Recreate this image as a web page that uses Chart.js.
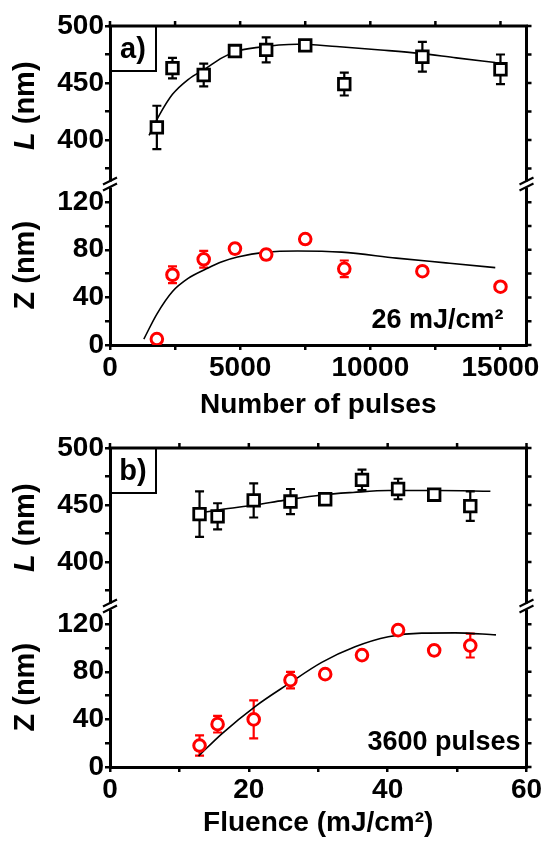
<!DOCTYPE html>
<html>
<head>
<meta charset="utf-8">
<script src="https://cdn.jsdelivr.net/npm/chart.js@4/dist/chart.umd.min.js"></script>
<style>
html, body { margin: 0; padding: 0; background: #fff; }
#wrap { position: relative; width: 545px; height: 844px; }
.panel { position: absolute; left: 0; width: 545px; height: 422px; }
</style>
</head>
<body>
<div id="wrap">
  <div class="panel" style="top:0"><canvas id="chartA" width="545" height="422"></canvas></div>
  <div class="panel" style="top:422px"><canvas id="chartB" width="545" height="422"></canvas></div>
</div>
<script>
// PANEL A : number of pulses at 26 mJ/cm2
let pulses = [1800, 2400, 3600, 4800, 6000, 7500, 9000, 12000, 15000];
let lenA = [411, 463, 457, 478, 479, 483, 449, 473, 462];
let lenErrA = [19, 9, 10, 3, 11, 3, 10, 13, 13];
let depthA = [5, 59, 72, 81, 76, 89, 64, 62, 49];
let depthErrA = [2, 7, 7, 4, 4, 3, 7, 3, 3];
// fit curves
let fitLenXA = [1500, 1900, 2400, 3000, 3700, 4300, 4900, 5600, 7200, 8700, 10400, 11900, 13300, 14800];
let fitLenA = [404, 422, 440, 453, 463, 472, 478, 481, 484, 482, 479, 476, 472, 468];
let fitDepXA = [1300, 1800, 2400, 3000, 3700, 4300, 4900, 6000, 7200, 8900, 11000, 12900, 14800];
let fitDepA = [5, 26, 45, 56, 64, 70, 74, 78, 79, 78, 73, 69, 65];

// PANEL B : fluence at 3600 pulses
let fluence = [12.9, 15.5, 20.7, 26, 31, 36.3, 41.5, 46.7, 51.9];
let lenB = [442, 440, 454, 453, 455, 472, 464, 459, 449];
let lenErrB = [20, 11.5, 15, 11, 4, 9, 9, 4, 13];
let depthB = [18, 36, 40, 73, 78, 94, 115, 98, 102];
let depthErrB = [8.5, 7, 16, 7, 3, 3, 3, 4, 10];
let fitLenXB = [12.2, 16, 20.9, 25, 30.5, 35, 40.1, 47.3, 54.8];
let fitLenB = [442.3, 446, 450, 454, 458.8, 461, 462.7, 462.7, 462];
let fitDepXB = [12.75, 16.1, 20.9, 25.7, 30.5, 35.3, 40.1, 44.9, 49.7, 55.6];
let fitDepB = [9.2, 27.9, 50.8, 69.8, 87.9, 101, 109.4, 112.5, 112.7, 111];

// TICKS
let xTicksA = [0, 2500, 5000, 7500, 10000, 12500, 15000];
let xLabelsA = [0, 5000, 10000, 15000];
let xTicksB = [0, 10, 20, 30, 40, 50, 60];
let xLabelsB = [0, 20, 40, 60];
let lTicks = [375, 400, 425, 450, 475, 500];
let lLabels = [400, 450, 500];
let zTicks = [0, 20, 40, 60, 80, 100, 120];
let zLabels = [0, 40, 80, 120];

const FONT = 'Liberation Sans, Arial, sans-serif';
const RED = '#ff0000';

function pts(xs, ys) {
    return xs.map((x, i) => ({x: x, y: ys[i]}));
}

// ERROR BARS, drawn below the markers
const errorBars = {
    id: 'errorBars',
    beforeDatasetsDraw(chart) {
        const ctx = chart.ctx;
        chart.data.datasets.forEach((ds, i) => {
            if (!ds.errors) return;
            const meta = chart.getDatasetMeta(i);
            const sc = chart.scales[ds.yAxisID];
            ctx.save();
            ctx.strokeStyle = ds.borderColor;
            ctx.lineWidth = 2.2;
            ctx.beginPath();
            meta.data.forEach((p, j) => {
                const y1 = sc.getPixelForValue(ds.data[j].y + ds.errors[j]);
                const y2 = sc.getPixelForValue(ds.data[j].y - ds.errors[j]);
                ctx.moveTo(p.x, y1); ctx.lineTo(p.x, y2);
                ctx.moveTo(p.x - 4.5, y1); ctx.lineTo(p.x + 4.5, y1);
                ctx.moveTo(p.x - 4.5, y2); ctx.lineTo(p.x + 4.5, y2);
            });
            ctx.stroke();
            ctx.restore();
        });
    }
};

// FRAME, BREAK MARKS, TITLES, LABEL BOX
const decor = {
    id: 'decor',
    afterDraw(chart, args, o) {
        const ctx = chart.ctx, a = chart.chartArea;
        const x = chart.scales.x, yL = chart.scales.yL, yZ = chart.scales.yZ;
        ctx.save();
        ctx.strokeStyle = '#000';
        ctx.lineWidth = 3;
        ctx.beginPath();
        ctx.moveTo(a.left - 1.5, a.top);
        ctx.lineTo(a.right, a.top);
        ctx.lineTo(a.right, a.bottom + 1.5);
        ctx.stroke();
        // top and right ticks
        ctx.lineWidth = 2.5;
        ctx.beginPath();
        x.ticks.forEach(t => {
            const px = x.getPixelForValue(t.value);
            ctx.moveTo(px, a.top); ctx.lineTo(px, a.top - 5);
        });
        [yL, yZ].forEach(s => s.ticks.forEach(t => {
            const py = s.getPixelForValue(t.value);
            ctx.moveTo(a.right, py); ctx.lineTo(a.right + 5, py);
        }));
        ctx.stroke();
        // break marks
        const yb = yL.bottom;
        [a.left, a.right].forEach(bx => {
            ctx.fillStyle = '#fff';
            ctx.fillRect(bx - 3, yb - 4, 6, 6);
            ctx.lineWidth = 2.2;
            ctx.beginPath();
            ctx.moveTo(bx - 7, yb - 1); ctx.lineTo(bx + 7, yb - 8);
            ctx.moveTo(bx - 7, yb + 5); ctx.lineTo(bx + 7, yb - 2);
            ctx.stroke();
        });
        // y titles
        ctx.fillStyle = '#000';
        ctx.textBaseline = 'middle';
        [[yL, 'L'], [yZ, 'Z']].forEach(([s, sym]) => {
            const cy = (s.top + s.bottom) / 2;
            ctx.save();
            ctx.translate(26, cy);
            ctx.rotate(-Math.PI / 2);
            ctx.font = (sym === 'L' ? 'italic ' : '') + 'bold 29px ' + FONT;
            const w1 = ctx.measureText(sym).width;
            ctx.font = 'bold 29px ' + FONT;
            const w2 = ctx.measureText(' (nm)').width;
            let sx = -(w1 + w2) / 2;
            ctx.textAlign = 'left';
            ctx.font = (sym === 'L' ? 'italic ' : '') + 'bold 29px ' + FONT;
            ctx.fillText(sym, sx, 0);
            ctx.font = 'bold 29px ' + FONT;
            ctx.fillText(' (nm)', sx + w1, 0);
            ctx.restore();
        });
        // panel label box
        ctx.lineWidth = 2;
        ctx.strokeRect(a.left, a.top, 46, 45);
        ctx.font = 'bold 29px ' + FONT;
        ctx.textAlign = 'center';
        ctx.fillText(o.label, a.left + 23, a.top + 24);
        // annotation
        ctx.textAlign = 'right';
        ctx.textBaseline = 'alphabetic';
        ctx.font = 'bold 27px ' + FONT;
        ctx.fillText(o.note, a.right + o.noteDx, a.bottom - 17);
        ctx.restore();
    }
};

function makeChart(id, cfg) {
    const tickFont = {family: FONT, size: 28, weight: 'bold'};
    const gridOpt = {drawOnChartArea: false, drawTicks: true, tickLength: 5, lineWidth: 2.5, color: '#000'};
    return new Chart(document.getElementById(id), {
        type: 'scatter',
        data: {
            datasets: [{
                data: pts(cfg.fitLx, cfg.fitL), yAxisID: 'yL', showLine: true,
                borderColor: '#000', borderWidth: 1.6, pointRadius: 0,
                cubicInterpolationMode: 'monotone', order: 3
            }, {
                data: pts(cfg.fitZx, cfg.fitZ), yAxisID: 'yZ', showLine: true,
                borderColor: '#000', borderWidth: 1.6, pointRadius: 0,
                cubicInterpolationMode: 'monotone', order: 3
            }, {
                data: pts(cfg.x, cfg.L), errors: cfg.Lerr, yAxisID: 'yL',
                pointStyle: 'rect', pointRadius: 8.2, borderWidth: 2.8,
                borderColor: '#000', backgroundColor: '#fff', order: 1
            }, {
                data: pts(cfg.x, cfg.Z), errors: cfg.Zerr, yAxisID: 'yZ',
                pointStyle: 'circle', pointRadius: 5.8, borderWidth: 3,
                borderColor: RED, backgroundColor: '#fff', order: 1
            }]
        },
        options: {
            responsive: false,
            animation: false,
            devicePixelRatio: 1,
            layout: {padding: {top: 26, right: 18.5, left: 0, bottom: 0}},
            plugins: {
                legend: {display: false},
                tooltip: {enabled: false},
                decor: {label: cfg.label, note: cfg.note, noteDx: cfg.noteDx}
            },
            scales: {
                x: {
                    type: 'linear', position: 'bottom', min: 0, max: cfg.xMax,
                    afterBuildTicks: s => { s.ticks = cfg.xTicks.map(v => ({value: v})); },
                    afterFit: s => { s.height = 77; },
                    ticks: {
                        font: tickFont, color: '#000', maxRotation: 0, autoSkip: false, padding: 1,
                        callback: v => cfg.xLabels.includes(v) ? String(v) : ''
                    },
                    grid: gridOpt,
                    border: {width: 3, color: '#000'},
                    title: {display: true, text: cfg.xTitle, color: '#000', font: tickFont, padding: {top: 0, bottom: cfg.titlePad}}
                },
                yZ: {
                    type: 'linear', position: 'left', stack: 'p', stackWeight: 1, min: 0, max: 134,
                    afterBuildTicks: s => { s.ticks = zTicks.map(v => ({value: v})); },
                    afterFit: s => { s.width = 110; },
                    ticks: {
                        font: tickFont, color: '#000', padding: 1, autoSkip: false,
                        callback: v => zLabels.includes(v) ? String(v) : ''
                    },
                    grid: gridOpt,
                    border: {width: 3, color: '#000'}
                },
                yL: {
                    type: 'linear', position: 'left', stack: 'p', stackWeight: 1, min: 360, max: 500,
                    afterBuildTicks: s => { s.ticks = lTicks.map(v => ({value: v})); },
                    afterFit: s => { s.width = 110; },
                    ticks: {
                        font: tickFont, color: '#000', padding: 1, autoSkip: false,
                        callback: v => lLabels.includes(v) ? String(v) : ''
                    },
                    grid: gridOpt,
                    border: {width: 3, color: '#000'}
                }
            }
        },
        plugins: [errorBars, decor]
    });
}

makeChart('chartA', {
    x: pulses, L: lenA, Lerr: lenErrA, Z: depthA, Zerr: depthErrA,
    fitLx: fitLenXA, fitL: fitLenA, fitZx: fitDepXA, fitZ: fitDepA,
    xMax: 16000, xTicks: xTicksA, xLabels: xLabelsA, titlePad: 0,
    xTitle: 'Number of pulses', label: 'a)', note: '26 mJ/cm\u00b2', noteDx: -23
});
makeChart('chartB', {
    x: fluence, L: lenB, Lerr: lenErrB, Z: depthB, Zerr: depthErrB,
    fitLx: fitLenXB, fitL: fitLenB, fitZx: fitDepXB, fitZ: fitDepB,
    xMax: 60, xTicks: xTicksB, xLabels: xLabelsB, titlePad: 4,
    xTitle: 'Fluence (mJ/cm\u00b2)', label: 'b)', note: '3600 pulses', noteDx: -6
});
</script>
</body>
</html>
